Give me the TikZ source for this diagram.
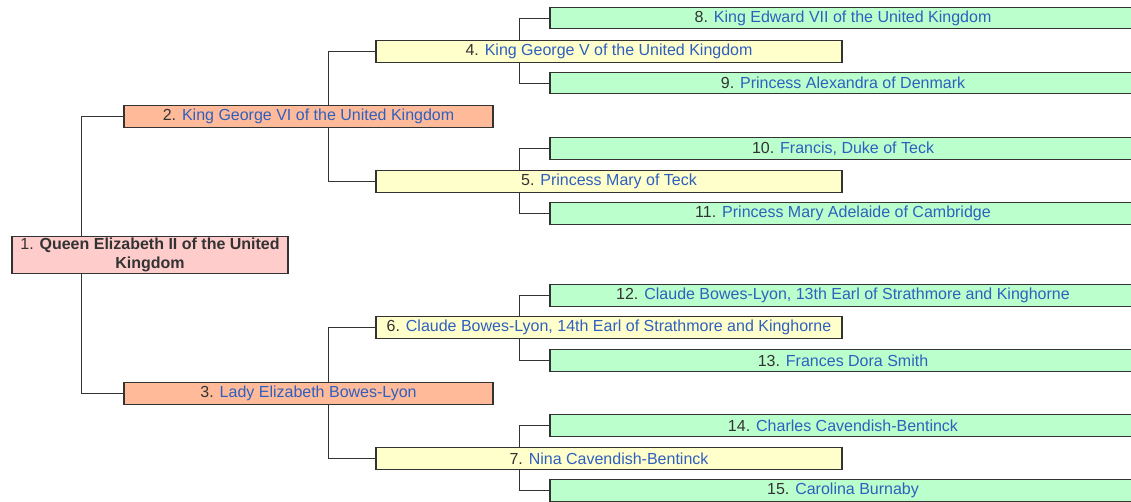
\documentclass[tikz,border=0pt]{standalone}
\usepackage{fontspec}
\setmainfont{Liberation Sans}
\usetikzlibrary{calc}

\definecolor{gen1}{HTML}{FFCCCC}
\definecolor{gen2}{HTML}{FFBB99}
\definecolor{gen3}{HTML}{FFFFCC}
\definecolor{gen4}{HTML}{BBFFCC}
\definecolor{linkblue}{HTML}{2F5FBF}
\definecolor{numgray}{HTML}{333333}
\definecolor{edgegray}{HTML}{333333}

\newcommand{\personlink}[1]{\textcolor{linkblue}{#1}}

\tikzset{
  person/.style={draw=edgegray, line width=1.1pt, inner sep=0pt, anchor=center,
    text=numgray, font=\fontsize{16}{18.5}\selectfont, minimum height=21.5pt},
  self/.style={person, fill=gen1, minimum width=276pt, minimum height=37.5pt, align=center},
  parent/.style={person, fill=gen2, minimum width=369pt},
  grand/.style={person, fill=gen3, minimum width=466pt},
  great/.style={person, fill=gen4, minimum width=586pt},
  link/.style={draw=edgegray, line width=1pt}
}

\begin{document}
\begin{tikzpicture}[x=1pt, y=-1pt]
\useasboundingbox (0,0) rectangle (1131,501);

% generation 1
\node[self] (p1) at (150,255) {1. \textbf{Queen Elizabeth II of the United}\\\textbf{Kingdom}};

% generation 2
\node[parent] (p2) at (308.5,116.5) {2. \personlink{King George VI of the United Kingdom}};
\node[parent] (p3) at (308.5,393.5) {3. \personlink{Lady Elizabeth Bowes-Lyon}};

% generation 3
\node[grand] (p4) at (609,51.5)  {4. \personlink{King George V of the United Kingdom}};
\node[grand] (p5) at (609,181.5) {5. \personlink{Princess Mary of Teck}};
\node[grand] (p6) at (609,327.5) {6. \personlink{Claude Bowes-Lyon, 14th Earl of Strathmore and Kinghorne}};
\node[grand] (p7) at (609,458.5) {7. \personlink{Nina Cavendish-Bentinck}};

% generation 4
\node[great] (p8)  at (843,18)    {8. \personlink{King Edward VII of the United Kingdom}};
\node[great] (p9)  at (843,83)    {9. \personlink{Princess Alexandra of Denmark}};
\node[great] (p10) at (843,148.5) {10. \personlink{Francis, Duke of Teck}};
\node[great] (p11) at (843,213.5) {11. \personlink{Princess Mary Adelaide of Cambridge}};
\node[great] (p12) at (843,295.5) {12. \personlink{Claude Bowes-Lyon, 13th Earl of Strathmore and Kinghorne}};
\node[great] (p13) at (843,360.5) {13. \personlink{Frances Dora Smith}};
\node[great] (p14) at (843,425.5) {14. \personlink{Charles Cavendish-Bentinck}};
\node[great] (p15) at (843,490.5) {15. \personlink{Carolina Burnaby}};

% trunk positions of the connectors
\coordinate (t1) at (81.5,0);
\coordinate (t2) at (328,0);
\coordinate (t3) at (519,0);

% connectors: father above, mother below
\draw[link] (p1.north -| t1) |- (p2.west);
\draw[link] (p1.south -| t1) |- (p3.west);

\draw[link] (p2.north -| t2) |- (p4.west);
\draw[link] (p2.south -| t2) |- (p5.west);
\draw[link] (p3.north -| t2) |- (p6.west);
\draw[link] (p3.south -| t2) |- (p7.west);

\draw[link] (p4.north -| t3) |- (p8.west);
\draw[link] (p4.south -| t3) |- (p9.west);
\draw[link] (p5.north -| t3) |- (p10.west);
\draw[link] (p5.south -| t3) |- (p11.west);
\draw[link] (p6.north -| t3) |- (p12.west);
\draw[link] (p6.south -| t3) |- (p13.west);
\draw[link] (p7.north -| t3) |- (p14.west);
\draw[link] (p7.south -| t3) |- (p15.west);
\end{tikzpicture}
\end{document}
